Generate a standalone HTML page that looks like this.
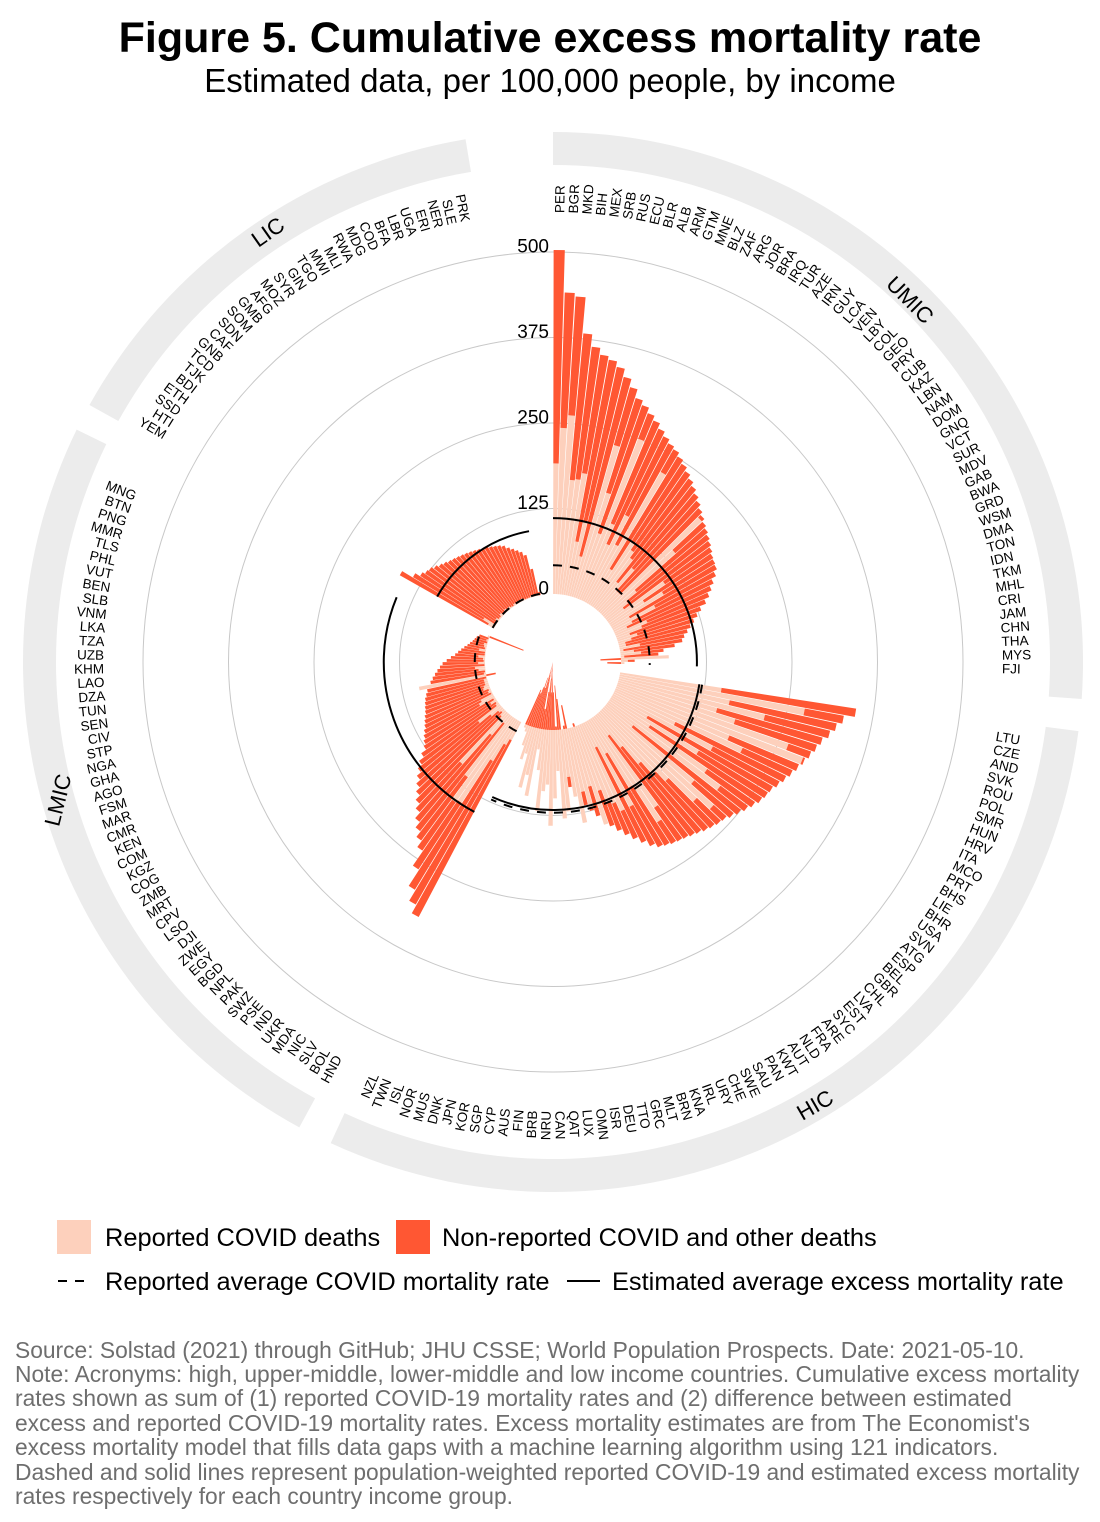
<!DOCTYPE html>
<html><head><meta charset="utf-8"><style>
html,body{margin:0;padding:0;background:#fff;}
svg{display:block;font-family:"Liberation Sans",Arial,sans-serif;}
</style></head><body>
<svg id="chart" width="1100" height="1522" viewBox="0 0 1100 1522" xmlns="http://www.w3.org/2000/svg">
<text x="550" y="52" text-anchor="middle" font-size="43" font-weight="bold" fill="#000">Figure 5. Cumulative excess mortality rate</text>
<text x="550" y="92" text-anchor="middle" font-size="33" fill="#000">Estimated data, per 100,000 people, by income</text>
<g id="rings"></g>
<g id="grid"></g>
<g id="bars"></g>
<g id="avg"></g>
<g id="ticks"></g>
<g id="labels"></g>
<g font-size="22" fill="#000">
<text transform="translate(910,300) rotate(45)" text-anchor="middle" dominant-baseline="central">UMIC</text>
<text transform="translate(815,1105) rotate(-30)" text-anchor="middle" dominant-baseline="central">HIC</text>
<text transform="translate(58,800) rotate(-76)" text-anchor="middle" dominant-baseline="central">LMIC</text>
<text transform="translate(268,232) rotate(-35)" text-anchor="middle" dominant-baseline="central">LIC</text>
</g>
<g font-size="25.4" fill="#000">
<rect x="57" y="1220" width="34" height="34" fill="#FDD0BC"/>
<text x="105" y="1246">Reported COVID deaths</text>
<rect x="396" y="1220" width="34" height="34" fill="#FF5733"/>
<text x="442" y="1246">Non-reported COVID and other deaths</text>
<line x1="58" y1="1281" x2="92" y2="1281" stroke="#000" stroke-width="2" stroke-dasharray="9,8"/>
<text x="105" y="1290">Reported average COVID mortality rate</text>
<line x1="567" y1="1281" x2="600" y2="1281" stroke="#000" stroke-width="2"/>
<text x="612" y="1290">Estimated average excess mortality rate</text>
</g>
<g font-size="22.8" fill="#6e6e6e">
<text x="15" y="1358">Source: Solstad (2021) through GitHub; JHU CSSE; World Population Prospects. Date: 2021-05-10.</text>
<text x="15" y="1382">Note: Acronyms: high, upper-middle, lower-middle and low income countries. Cumulative excess mortality</text>
<text x="15" y="1406">rates shown as sum of (1) reported COVID-19 mortality rates and (2) difference between estimated</text>
<text x="15" y="1431">excess and reported COVID-19 mortality rates. Excess mortality estimates are from The Economist's</text>
<text x="15" y="1455">excess mortality model that fills data gaps with a machine learning algorithm using 121 indicators.</text>
<text x="15" y="1480">Dashed and solid lines represent population-weighted reported COVID-19 and estimated excess mortality</text>
<text x="15" y="1504">rates respectively for each country income group.</text>
</g>
</svg>
<script>
const umicNames = ["PER","BGR","MKD","BIH","MEX","SRB","RUS","ECU","BLR","ALB","ARM","GTM","MNE","BLZ","ZAF","ARG","JOR","BRA","IRQ","TUR","AZE","IRN","GUY","LCA","VEN","LBY","COL","GEO","PRY","CUB","KAZ","LBN","NAM","DOM","GNQ","VCT","SUR","MDV","GAB","BWA","GRD","WSM","DMA","TON","IDN","TKM","MHL","CRI","JAM","CHN","THA","MYS","FJI"];
const umicTotal = [503,441,436,383,365,355,350,342,330,318,305,298,290,283,275,268,262,258,252,246,240,234,228,222,216,210,205,200,196,192,188,184,180,178,176,170,162,155,148,140,130,122,115,108,102,96,92,80,63,55,40,20,-15];
const umicReported = [191,243,262,168,170,180,80,110,60,230,160,100,250,120,90,140,95,220,60,110,100,90,50,80,40,40,200,140,60,40,30,100,60,90,30,70,30,20,50,40,20,30,20,10,10,30,5,20,30,5,70,10,5];
const hicNames = ["LTU","CZE","AND","SVK","ROU","POL","SMR","HUN","HRV","ITA","MCO","PRT","BHS","LIE","BHR","USA","SVN","ATG","ESP","BEL","GBR","CHL","LVA","EST","SYC","ARE","FRA","NLD","AUT","KWT","PAN","SAU","SWE","CHE","URY","IRL","KNA","BRN","MLT","GRC","TTO","DEU","ISR","OMN","LUX","QAT","CAN","NRU","BRB","FIN","AUS","CYP","SGP","KOR","JPN","DNK","MUS","NOR","ISL","TWN","NZL"];
const hicTotal = [349,333,325,318,310,305,300,295,290,285,280,275,270,268,265,260,255,250,245,240,238,235,232,228,225,222,220,218,215,212,205,195,185,175,165,155,145,135,125,115,105,95,85,75,65,55,45,35,25,15,10,5,0,-5,-10,-15,-20,-25,-30,-40,-50];
const hicReported = [150,275,165,220,150,180,265,292,180,205,100,165,60,150,70,175,205,50,170,215,190,140,120,95,60,35,160,180,115,55,140,40,140,125,120,100,150,90,120,95,140,100,70,120,130,60,100,140,80,90,120,60,30,100,70,90,40,50,30,10,5];
const lmicNames = ["HND","BOL","SLV","NIC","MDA","UKR","IND","PSE","SWZ","PAK","NPL","BGD","EGY","ZWE","DJI","LSO","CPV","MRT","ZMB","COG","KGZ","COM","KEN","CMR","MAR","FSM","AGO","GHA","NGA","STP","CIV","SEN","TUN","DZA","LAO","KHM","UZB","TZA","LKA","VNM","SLB","BEN","VUT","PHL","TLS","MMR","PNG","BTN","MNG"];
const lmicTotal = [322,308,290,262,236,225,215,205,194,185,176,168,160,152,144,135,126,122,118,114,110,107,104,101,99,97,95,92,89,86,82,78,74,70,66,62,56,50,44,40,36,32,28,25,22,20,18,15,-50];
const lmicReported = [30,40,70,146,150,110,15,40,100,10,5,8,20,40,5,3,10,3,25,20,2,5,3,10,8,5,5,5,1,100,3,1,10,15,1,10,2,3,10,1,1,10,2,4,5,1,3,1,3];
const licNames = ["YEM","HTI","SSD","ETH","BDI","TJK","TCD","GNB","CAF","SDN","SOM","GMB","AFG","MOZ","SYR","GIN","TGO","MWI","MLI","RWA","MDG","COD","BFA","LBR","UGA","ERI","NER","SLE","PRK"];
const licTotal = [158,140,132,128,126,122,118,115,112,110,108,106,104,102,100,98,96,94,92,90,88,85,80,76,72,68,62,40,5];
const licReported = [10,20,3,2,5,2,2,5,2,3,5,3,4,2,1,3,2,3,1,4,2,1,1,1,2,1,1,1,0];
const groupNames = ["UMIC","HIC","LMIC","LIC"];
const groupReportedAvg = [42,121,15,2];
const groupEstimatedAvg = [111,117,148,95];
const radialTicks = [0,125,250,375,500];

const NS = "http://www.w3.org/2000/svg";
const CX = 553, CY = 662, R0 = 68, K = 0.684;
const SLOTS = 208, W = 360 / SLOTS;
const groupStart = [0, 57, 120, 173];
const groupRing = [[0,94],[97.5,204.8],[208.6,296],[299,350.5]];
const LIGHT = "#FDD0BC", DARK = "#FF5733";
function rad(v){ return R0 + v * K; }
function pt(r, deg){ const a = deg*Math.PI/180; return [CX + r*Math.sin(a), CY - r*Math.cos(a)]; }
function sector(r1, r2, a1, a2){
  const p1=pt(r2,a1), p2=pt(r2,a2), p3=pt(r1,a2), p4=pt(r1,a1);
  const lg = (a2-a1)>180?1:0;
  return `M${p1[0]},${p1[1]} A${r2},${r2} 0 ${lg} 1 ${p2[0]},${p2[1]} L${p3[0]},${p3[1]} A${r1},${r1} 0 ${lg} 0 ${p4[0]},${p4[1]} Z`;
}
function arcPath(r, a1, a2){
  const p1=pt(r,a1), p2=pt(r,a2); const lg=(a2-a1)>180?1:0;
  return `M${p1[0]},${p1[1]} A${r},${r} 0 ${lg} 1 ${p2[0]},${p2[1]}`;
}
const gRings = document.getElementById('rings');
groupRing.forEach((g,i)=>{
  const p = document.createElementNS(NS,'path');
  p.setAttribute('d', sector(497, 530, g[0], g[1]));
  p.setAttribute('fill', '#ECECEC');
  
  
  gRings.appendChild(p);
});
const gGrid = document.getElementById('grid');
const gTicks = document.getElementById('ticks');
radialTicks.forEach(t=>{
  if (t > 0) {
    const c = document.createElementNS(NS,'circle');
    c.setAttribute('cx', CX); c.setAttribute('cy', CY); c.setAttribute('r', rad(t));
    c.setAttribute('fill','none'); c.setAttribute('stroke','#C8C8C8'); c.setAttribute('stroke-width','1');
    
    
    gGrid.appendChild(c);
  }
  const tx = document.createElementNS(NS,'text');
  tx.setAttribute('x', 549); tx.setAttribute('y', CY - rad(t) - 5);
  tx.setAttribute('text-anchor','end'); tx.setAttribute('dominant-baseline','central');
  tx.setAttribute('font-size','19'); tx.textContent = t;
  
  
  gTicks.appendChild(tx);
});
const groups = [
  [umicNames, umicTotal, umicReported],
  [hicNames, hicTotal, hicReported],
  [lmicNames, lmicTotal, lmicReported],
  [licNames, licTotal, licReported]
];
const gBars = document.getElementById('bars');
const gLabels = document.getElementById('labels');
const lightLayer = document.createElementNS(NS,'g');
const darkLayer = document.createElementNS(NS,'g');




gBars.appendChild(lightLayer); gBars.appendChild(darkLayer);
groups.forEach((g, gi)=>{
  const [names, tot, rep] = g;
  names.forEach((n, i)=>{
    const s = groupStart[gi] + i;
    const a1 = s*W + W*0.05, a2 = (s+1)*W - W*0.05;
    const r = Math.max(0, rep[i]), nr = tot[i] - rep[i];
    if (r > 0) {
      const p = document.createElementNS(NS,'path');
      p.setAttribute('d', sector(R0, rad(r), a1, a2));
      p.setAttribute('fill', LIGHT);
      
      
      lightLayer.appendChild(p);
    }
    const d = document.createElementNS(NS,'path');
    if (nr >= 0) d.setAttribute('d', sector(rad(r), rad(r+nr), a1, a2));
    else d.setAttribute('d', sector(Math.max(0, rad(nr)), R0, a1, a2));
    d.setAttribute('fill', DARK);
    
    
    darkLayer.appendChild(d);
    const th = (s+0.5)*W;
    const lp = pt(449, th);
    const t = document.createElementNS(NS,'text');
    const rot = th < 180 ? th - 90 : th + 90;
    t.setAttribute('transform', `translate(${lp[0]},${lp[1]}) rotate(${rot})`);
    t.setAttribute('text-anchor', th < 180 ? 'start' : 'end');
    t.setAttribute('dominant-baseline','central');
    t.setAttribute('font-size','13.5');
    t.textContent = n;
    
    
    gLabels.appendChild(t);
  });
});
const gAvg = document.getElementById('avg');
groups.forEach((g, gi)=>{
  const a1 = groupStart[gi]*W, a2 = (groupStart[gi] + g[0].length)*W;
  const solid = document.createElementNS(NS,'path');
  solid.setAttribute('d', arcPath(rad(groupEstimatedAvg[gi]), a1, a2));
  solid.setAttribute('fill','none'); solid.setAttribute('stroke','#000'); solid.setAttribute('stroke-width','2');
  
  
  gAvg.appendChild(solid);
  const dash = document.createElementNS(NS,'path');
  dash.setAttribute('d', arcPath(rad(groupReportedAvg[gi]), a1, a2));
  dash.setAttribute('fill','none'); dash.setAttribute('stroke','#000'); dash.setAttribute('stroke-width','2');
  dash.setAttribute('stroke-dasharray','9,8');
  
  
  gAvg.appendChild(dash);
});
</script>
</body></html>
